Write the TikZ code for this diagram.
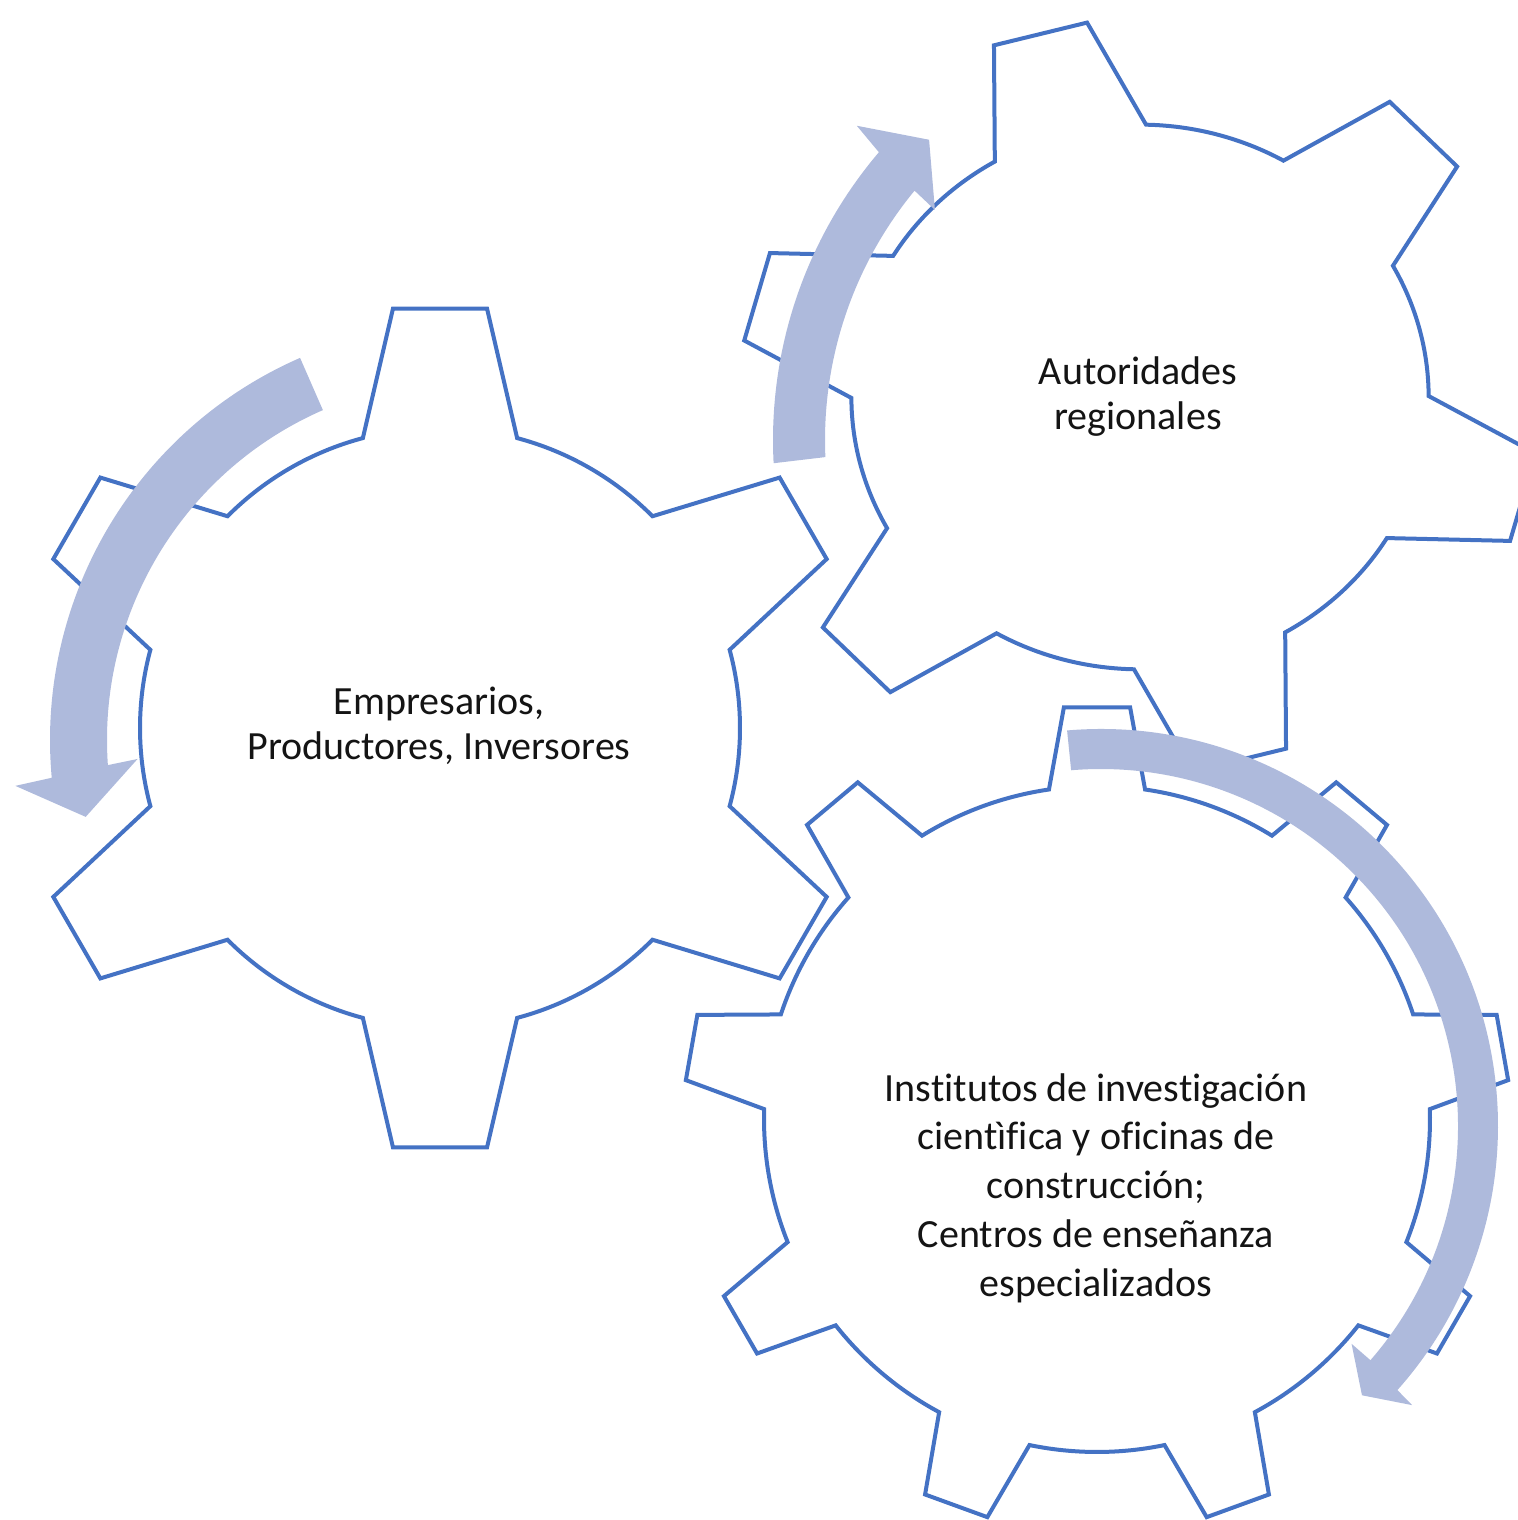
\documentclass[tikz,border=0pt]{standalone}
\usepackage{fontspec}
\setmainfont{Carlito}[Ligatures=NoCommon]
\definecolor{gearblue}{HTML}{4472C4}
\definecolor{arrowfill}{HTML}{AEBADC}
\tikzset{
  gearline/.style={draw=gearblue, line width=2pt, fill=white, line join=miter},
  turnarrow/.style={fill=arrowfill, draw=none},
  geartext/.style={align=center, font=\fontsize{20}{22.5}\selectfont, text=black!92}
}
\begin{document}
\begin{tikzpicture}[x=0.5pt,y=0.5pt]
  \useasboundingbox (0,0) rectangle (1518,1520);
  \clip (0,0) rectangle (1518,1520);
  % gear centres
  \coordinate (leftgear) at (440,792);
  \coordinate (topgear) at (1140,1123);
  \coordinate (lowgear) at (1097,401);

  % left gear, six teeth
  \begin{scope}[shift={(leftgear)}]
    \draw[gearline] (15.1:300)
      \foreach \a in {30,90,...,330}{
        -- ({\a-6.4}:422) -- ({\a+6.4}:422) -- ({\a+14.9}:300)
        arc[start angle=\a+14.9, end angle=\a+45.1, radius=300]
      } -- cycle;
  \end{scope}

  % upper right gear, six teeth, a little wider than tall
  \begin{scope}[shift={(topgear)}, xscale=1.029, yscale=0.971]
    \draw[gearline] (88.8:280.5)
      \foreach \a in {104.5,164.5,...,404.5}{
        -- ({\a-6.9}:389) -- ({\a+6.9}:389) -- ({\a+15.7}:280.5)
        arc[start angle=\a+15.7, end angle=\a+44.3, radius=280.5]
      } -- cycle;
  \end{scope}

  % lower gear, nine teeth
  \begin{scope}[shift={(lowgear)}]
    \draw[gearline] (81.7:333)
      \foreach \a in {90,130,...,410}{
        -- ({\a-4.6}:413) -- ({\a+4.6}:413) -- ({\a+8.3}:333)
        arc[start angle=\a+8.3, end angle=\a+31.7, radius=333]
      } -- cycle;
  \end{scope}

  % turning arrows
  \coordinate (leftturn) at (467,780);
  \coordinate (topturn) at (1217,1080);
  \coordinate (lowturn) at (1101,394);
  \begin{scope}[shift={(leftturn)}]
    \fill[turnarrow] (113.6:417) arc[start angle=113.6, end angle=185.2, radius=417]
      -- (185.8:454) -- (191.4:389) -- (183.3:330) -- (184:360)
      arc[start angle=184, end angle=113.6, radius=360] -- cycle;
  \end{scope}
  \begin{scope}[shift={(topturn)}]
    \fill[turnarrow] (183:444) arc[start angle=183, end angle=139.6, radius=444]
      -- (138.9:478) -- (133.8:416) -- (140.8:364) -- (140.5:392)
      arc[start angle=140.5, end angle=182.5, radius=392] -- cycle;
  \end{scope}
  \begin{scope}[shift={(lowturn)}]
    \fill[turnarrow] (94.9:397) arc[start angle=94.9, end angle=-41.7, radius=397]
      -- (-41.9:418) -- (-45.9:375) -- (-41:332) -- (-41:357)
      arc[start angle=-41, end angle=94.8, radius=357] -- cycle;
  \end{scope}

  % labels
  \node[geartext] (empresarios) at (439,794) {Empresarios,\\Productores, Inversores};
  \node[geartext] (autoridades) at (1138,1123) {Autoridades\\regionales};
  \node[geartext, font=\fontsize{20}{24.4}\selectfont] (institutos) at (1096,332)
    {Institutos de investigación\\cientìfica y oficinas de\\construcción;\\Centros de enseñanza\\especializados};
\end{tikzpicture}
\end{document}
